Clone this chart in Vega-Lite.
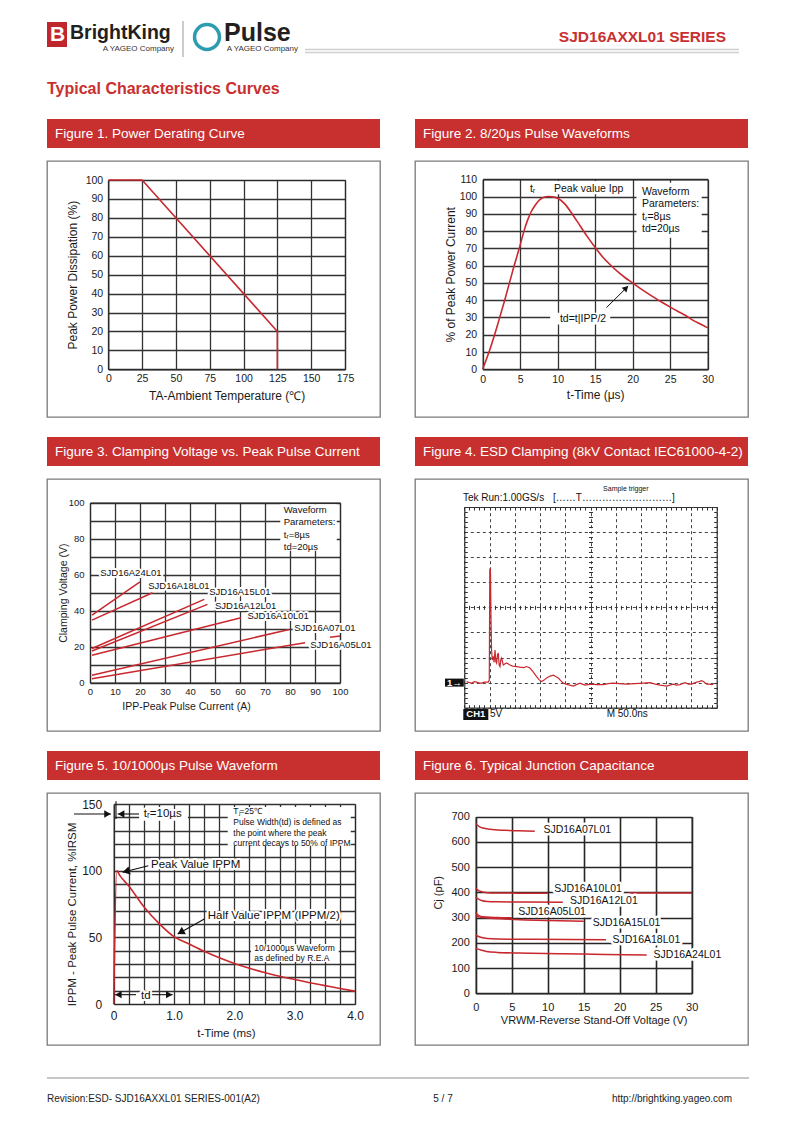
{
"$schema": "https://vega.github.io/schema/vega-lite/v6.json",
"background": "white",
"padding": {"left": 46, "top": 0, "right": 46, "bottom": 0},
"spacing": 19,
"config": {
  "font": "Liberation Sans",
  "view": {"stroke": null},
  "axis": {"labelFont": "Liberation Sans", "titleFont": "Liberation Sans", "labelColor": "#1a1a1a", "titleColor": "#1a1a1a", "titleFontWeight": "normal", "domainColor": "#2a2a2a", "domainWidth": 1.2, "gridColor": "#333333", "gridWidth": 1.3, "gridOpacity": 1, "ticks": false, "tickSize": 0, "labelPadding": 5, "zindex": 0, "labelFlush": false, "labelOverlap": false, "labelBound": false},
  "text": {"font": "Liberation Sans"}
},
"datasets": {
  "f1": [{"t":0,"p":100},{"t":25,"p":100},{"t":125,"p":20},{"t":125,"p":0}],
  "f2": [{"x":0,"y":0},{"x":1,"y":12},{"x":2,"y":26},{"x":3,"y":41},{"x":4,"y":57},{"x":5,"y":72},{"x":5.5,"y":80},{"x":6,"y":86.5},{"x":6.5,"y":91.5},{"x":7,"y":95},{"x":7.5,"y":97.7},{"x":8,"y":99.3},{"x":8.8,"y":100},{"x":9.5,"y":99.7},{"x":10,"y":99},{"x":11,"y":95.5},{"x":12,"y":89.5},{"x":13,"y":83},{"x":14,"y":76.5},{"x":15,"y":70.5},{"x":16,"y":65},{"x":17,"y":60.5},{"x":18,"y":56.5},{"x":19,"y":53},{"x":20,"y":50},{"x":21,"y":46.9},{"x":22,"y":44},{"x":23,"y":41.2},{"x":24,"y":38.5},{"x":25,"y":36},{"x":26,"y":33.6},{"x":27,"y":31.3},{"x":28,"y":28.5},{"x":29,"y":26.2},{"x":30,"y":24}],
  "f2txt": [{"x":6.3,"y":104.6,"label":"tᵣ"},{"x":9.5,"y":104.6,"label":"Peak value Ipp"},{"x":21.24,"y":102.7,"label":"Waveform"},{"x":21.24,"y":95.7,"label":"Parameters:"},{"x":21.24,"y":88.4,"label":"tᵣ=8µs"},{"x":21.24,"y":81.3,"label":"td=20µs"},{"x":10.3,"y":29.3,"label":"td=t|IPP/2"}],
  "f2box": [{"x":20.5,"x2":29.2,"y":76.2,"y2":108},{"x":9,"x2":17,"y":26,"y2":32.8},{"x":5.6,"x2":19.6,"y":101.3,"y2":109}],
  "f2arrow": [{"x":16.5,"y":35.7,"x2":19.4,"y2":48.2}],
  "f2head": [{"x":19.12,"y":46.98}],
  "f3": [{"s":"SJD16A24L01","x":0.8,"y":37.5},{"s":"SJD16A24L01","x":20,"y":56},{"s":"SJD16A18L01","x":0.8,"y":34.8},{"s":"SJD16A18L01","x":25,"y":50},{"s":"SJD16A15L01","x":0.8,"y":19},{"s":"SJD16A15L01","x":45.7,"y":46.3},{"s":"SJD16A12L01","x":0.8,"y":17.6},{"s":"SJD16A12L01","x":47,"y":43.5},{"s":"SJD16A10L01","x":0.8,"y":15.2},{"s":"SJD16A10L01","x":60.4,"y":36.1},{"s":"SJD16A07L01","x":0.8,"y":4.1},{"s":"SJD16A07L01","x":79.7,"y":29.6},{"s":"SJD16A05L01","x":0.8,"y":2.2},{"s":"SJD16A05L01","x":86,"y":22.2},{"s":"SJD16A05L01b","x":96,"y":25.2},{"s":"SJD16A05L01b","x":100,"y":25.9}],
  "f3lab": [{"x":4.1,"y":60.9,"label":"SJD16A24L01"},{"x":23.3,"y":53.7,"label":"SJD16A18L01"},{"x":47.7,"y":50.4,"label":"SJD16A15L01"},{"x":50,"y":42.6,"label":"SJD16A12L01"},{"x":63,"y":36.9,"label":"SJD16A10L01"},{"x":81.7,"y":30.4,"label":"SJD16A07L01"},{"x":88.1,"y":20.7,"label":"SJD16A05L01"}],
  "f3wave": [{"x":77.5,"y":95.9,"label":"Waveform"},{"x":77.5,"y":89.3,"label":"Parameters:"},{"x":77.5,"y":82.2,"label":"tᵣ=8µs"},{"x":77.5,"y":75.4,"label":"td=20µs"}],
  "f3box": [{"x":76.1,"x2":98.7,"y":73.3,"y2":99.2}],
  "f4": [{"x":4.6,"y":0.2},{"x":10,"y":0},{"x":14.5,"y":-0.1},{"x":20,"y":0.2},{"x":24,"y":0.1},{"x":30,"y":-0.1},{"x":34,"y":-0.1},{"x":40,"y":0.1},{"x":47.5,"y":0.1},{"x":49.5,"y":0.5},{"x":50.5,"y":22.6},{"x":51.8,"y":22.6},{"x":53,"y":12},{"x":54,"y":6.5},{"x":55.5,"y":4.5},{"x":57.5,"y":5.2},{"x":59,"y":4},{"x":60.8,"y":6.5},{"x":62.5,"y":4.2},{"x":64,"y":3.9},{"x":65.7,"y":5.5},{"x":67.4,"y":5.9},{"x":69,"y":3.5},{"x":70.7,"y":3.2},{"x":72.5,"y":4.6},{"x":74,"y":4.9},{"x":77.3,"y":3.5},{"x":80,"y":3.7},{"x":83.9,"y":3.9},{"x":90.5,"y":3.5},{"x":96,"y":3.3},{"x":103.7,"y":3.2},{"x":110,"y":3.1},{"x":118,"y":3.0},{"x":123.5,"y":3.2},{"x":130,"y":2.9},{"x":136,"y":2.2},{"x":143.3,"y":1.2},{"x":148,"y":0.6},{"x":153.2,"y":0.2},{"x":158,"y":0.5},{"x":163,"y":0.9},{"x":170,"y":1.3},{"x":176.4,"y":1.5},{"x":181,"y":1.2},{"x":186.3,"y":0.9},{"x":191,"y":0.4},{"x":196,"y":-0.1},{"x":205,"y":-0.4},{"x":216,"y":-0.7},{"x":222,"y":-0.4},{"x":229,"y":-0.1},{"x":234,"y":-0.3},{"x":239,"y":-0.5},{"x":245,"y":-0.4},{"x":252.3,"y":-0.3},{"x":262,"y":-0.4},{"x":275.4,"y":-0.4},{"x":285,"y":-0.2},{"x":295.2,"y":-0.1},{"x":308,"y":-0.2},{"x":321.7,"y":-0.3},{"x":338,"y":-0.2},{"x":354.7,"y":-0.1},{"x":368,"y":0},{"x":378,"y":-0.3},{"x":388,"y":-0.5},{"x":395,"y":-0.6},{"x":401,"y":-0.7},{"x":407,"y":-0.5},{"x":414,"y":-0.3},{"x":420,"y":-0.5},{"x":427.3,"y":-0.4},{"x":432,"y":-0.2},{"x":437.2,"y":0},{"x":444,"y":-0.3},{"x":450.5,"y":-0.3},{"x":455,"y":-0.1},{"x":460.4,"y":0.1},{"x":465,"y":0.2},{"x":470.3,"y":0.4},{"x":475,"y":0.1},{"x":480.2,"y":-0.3},{"x":485,"y":-0.3},{"x":490,"y":-0.4},{"x":493.4,"y":-0.3}],
  "f4txt": [{"x":-2.6,"y":36.8,"label":"Tek Run:1.00GS/s"},{"x":175.7,"y":36.8,"label":"[……T………………………]"},{"x":51,"y":-6.35,"label":"5V"},{"x":282,"y":-6.35,"label":"M 50.0ns"}],
  "f4small": [{"x":320,"y":38.6,"label":"Sample trigger"}],
  "f4box": [{"x":-38.2,"x2":-1,"y":-0.8,"y2":0.8},{"x":-2,"x2":47.6,"y":-5.26,"y2":-7.45}],
  "f4boxtxt": [{"x":-19.6,"y":0,"label":"1→"},{"x":22.8,"y":-6.35,"label":"CH1"}],
  "f5": [{"x":0,"y":0},{"x":0.05,"y":100},{"x":0.1,"y":96.5},{"x":0.25,"y":88.5},{"x":0.5,"y":73},{"x":0.75,"y":60.5},{"x":1,"y":50.5},{"x":1.25,"y":45},{"x":1.5,"y":39.5},{"x":1.75,"y":34.6},{"x":2,"y":30.4},{"x":2.25,"y":26.8},{"x":2.5,"y":23.6},{"x":2.75,"y":20.8},{"x":3,"y":18.4},{"x":3.25,"y":16},{"x":3.5,"y":13.8},{"x":3.75,"y":11.6},{"x":4,"y":9.6}],
  "f5box": [{"x":1.89,"x2":3.93,"y":118.7,"y2":147.75},{"x":2.277,"x2":3.73,"y":31.5,"y2":45},{"x":0.42,"x2":1.23,"y":137.5,"y2":146}],
  "f5rule": [{"x":-0.658,"y":142.5,"x2":-0.045,"y2":142.5},{"x":0.42,"y":142.5,"x2":0.066,"y2":142.5},{"x":0.038,"y":152,"x2":0.038,"y2":138.75},{"x":0.574,"y":103.7,"x2":0.149,"y2":98.8},{"x":1.502,"y":63.75,"x2":1.061,"y2":52.5},{"x":0.37,"y":7,"x2":0.02,"y2":7},{"x":0.618,"y":7,"x2":0.978,"y2":7}],
  "f5headR": [{"x":-0.103,"y":142.5},{"x":0.92,"y":7}],
  "f5headL": [{"x":0.124,"y":142.5},{"x":0.078,"y":7}],
  "f5headP": [{"x":0.205,"y":99.45}],
  "f5headH": [{"x":1.111,"y":53.8}],
  "f5big": [{"x":0.5,"y":142.5,"label":"tᵣ=10µs"},{"x":0.618,"y":104.5,"label":"Peak Value IPPM"},{"x":1.558,"y":66.2,"label":"Half Value IPPM (IPPM/2)"},{"x":0.453,"y":6.2,"label":"td"}],
  "f5small": [{"x":1.983,"y":145,"label":"Tⱼ=25℃"},{"x":1.983,"y":136.3,"label":"Pulse Width(td) is defined as"},{"x":1.983,"y":128.25,"label":"the point where the peak"},{"x":1.983,"y":120.75,"label":"current decays to 50% of IPPM"},{"x":2.33,"y":41.8,"label":"10/1000µs Waveform"},{"x":2.33,"y":34.3,"label":"as defined by R.E.A"}],
  "f6": [{"s":"07","x":0,"y":672},{"s":"07","x":0.5,"y":661},{"s":"07","x":1,"y":655},{"s":"07","x":2,"y":650},{"s":"07","x":4,"y":646},{"s":"07","x":6,"y":644},{"s":"07","x":8.2,"y":642},
         {"s":"10","x":0,"y":416},{"s":"10","x":0.3,"y":409},{"s":"10","x":0.8,"y":403},{"s":"10","x":1.6,"y":399},{"s":"10","x":3,"y":397.5},{"s":"10","x":6,"y":397},{"s":"10","x":10,"y":396.3},
         {"s":"10b","x":21.2,"y":397.6},{"s":"10b","x":30,"y":397.6},
         {"s":"12","x":0,"y":380},{"s":"12","x":0.4,"y":373},{"s":"12","x":0.8,"y":368},{"s":"12","x":1.6,"y":364},{"s":"12","x":3,"y":362.5},{"s":"12","x":7,"y":361.5},{"s":"12","x":12.1,"y":360.6},
         {"s":"05","x":0,"y":321},{"s":"05","x":0.2,"y":313},{"s":"05","x":0.6,"y":306},{"s":"05","x":1.5,"y":302},{"s":"05","x":3,"y":300},{"s":"05","x":5,"y":299},
         {"s":"15","x":0,"y":308},{"s":"15","x":0.4,"y":303},{"s":"15","x":1,"y":300},{"s":"15","x":2,"y":297.5},{"s":"15","x":4,"y":294.5},{"s":"15","x":7,"y":291},{"s":"15","x":10,"y":288.5},{"s":"15","x":15,"y":285.3},
         {"s":"18","x":0,"y":231},{"s":"18","x":0.4,"y":225},{"s":"18","x":0.8,"y":221},{"s":"18","x":1.6,"y":217},{"s":"18","x":3,"y":215},{"s":"18","x":8,"y":214},{"s":"18","x":18.1,"y":212.7},
         {"s":"24","x":0,"y":178},{"s":"24","x":0.8,"y":171},{"s":"24","x":1.5,"y":166},{"s":"24","x":3,"y":162},{"s":"24","x":6,"y":159.5},{"s":"24","x":12,"y":157},{"s":"24","x":18,"y":154},{"s":"24","x":23.75,"y":152}],
  "f6lab": [{"x":9.4,"y":648.6,"label":"SJD16A07L01"},{"x":10.9,"y":413.5,"label":"SJD16A10L01"},{"x":13.1,"y":366,"label":"SJD16A12L01"},{"x":5.9,"y":321,"label":"SJD16A05L01"},{"x":16.25,"y":278.7,"label":"SJD16A15L01"},{"x":19,"y":211,"label":"SJD16A18L01"},{"x":24.7,"y":152,"label":"SJD16A24L01"}]
},
"vconcat": [
{
  "width": 702, "height": 100,
  "layer": [
    {"data": {"values": [{"label": "logo"}]}, "mark": {"type": "rect", "color": "#c0272d"},
     "encoding": {"x": {"datum": 46, "type": "quantitative", "scale": {"domain": [46, 748], "nice": false, "zero": false}, "axis": null}, "x2": {"datum": 66}, "y": {"datum": 22, "type": "quantitative", "scale": {"domain": [0, 100], "range": [0, 100], "nice": false, "zero": false}, "axis": null}, "y2": {"datum": 47}}},
    {"data": {"values": [{"label": "B"}]}, "mark": {"type": "text", "color": "white", "fontWeight": "bold", "fontSize": 21, "align": "center", "baseline": "middle"},
     "encoding": {"x": {"datum": 56.5, "type": "quantitative", "scale": {"domain": [46, 748], "nice": false, "zero": false}, "axis": null}, "y": {"datum": 35, "type": "quantitative", "scale": {"domain": [0, 100], "range": [0, 100], "nice": false, "zero": false}, "axis": null}, "text": {"field": "label"}}},
    {"data": {"values": [{"label": "BrightKing"}]}, "mark": {"type": "text", "color": "#231f20", "fontWeight": "bold", "fontSize": 19.5, "align": "left", "baseline": "alphabetic", "letterSpacing": -0.4},
     "encoding": {"x": {"datum": 69, "type": "quantitative", "scale": {"domain": [46, 748], "nice": false, "zero": false}, "axis": null}, "y": {"datum": 38.5, "type": "quantitative", "scale": {"domain": [0, 100], "range": [0, 100], "nice": false, "zero": false}, "axis": null}, "text": {"field": "label"}}},
    {"data": {"values": [{"label": "A YAGEO Company"}]}, "mark": {"type": "text", "color": "#333333", "fontSize": 8, "align": "right", "baseline": "alphabetic"},
     "encoding": {"x": {"datum": 173, "type": "quantitative", "scale": {"domain": [46, 748], "nice": false, "zero": false}, "axis": null}, "y": {"datum": 51, "type": "quantitative", "scale": {"domain": [0, 100], "range": [0, 100], "nice": false, "zero": false}, "axis": null}, "text": {"field": "label"}}},
    {"data": {"values": [{"label": "separator"}]}, "mark": {"type": "rule", "color": "#9a9a9a", "strokeWidth": 1},
     "encoding": {"x": {"datum": 182, "type": "quantitative", "scale": {"domain": [46, 748], "nice": false, "zero": false}, "axis": null}, "y": {"datum": 21, "type": "quantitative", "scale": {"domain": [0, 100], "range": [0, 100], "nice": false, "zero": false}, "axis": null}, "y2": {"datum": 57}}},
    {"data": {"values": [{"label": "Pulse logo"}]}, "mark": {"type": "point", "shape": "circle", "filled": false, "size": 620, "stroke": "#2c9db1", "strokeWidth": 3.5, "opacity": 1},
     "encoding": {"x": {"datum": 206, "type": "quantitative", "scale": {"domain": [46, 748], "nice": false, "zero": false}, "axis": null}, "y": {"datum": 37, "type": "quantitative", "scale": {"domain": [0, 100], "range": [0, 100], "nice": false, "zero": false}, "axis": null}}},
    {"data": {"values": [{"label": "Pulse"}]}, "mark": {"type": "text", "color": "#231f20", "fontWeight": "bold", "fontSize": 25, "align": "left", "baseline": "alphabetic", "letterSpacing": -0.5},
     "encoding": {"x": {"datum": 223, "type": "quantitative", "scale": {"domain": [46, 748], "nice": false, "zero": false}, "axis": null}, "y": {"datum": 41, "type": "quantitative", "scale": {"domain": [0, 100], "range": [0, 100], "nice": false, "zero": false}, "axis": null}, "text": {"field": "label"}}},
    {"data": {"values": [{"label": "A YAGEO Company"}]}, "mark": {"type": "text", "color": "#333333", "fontSize": 8, "align": "right", "baseline": "alphabetic"},
     "encoding": {"x": {"datum": 297, "type": "quantitative", "scale": {"domain": [46, 748], "nice": false, "zero": false}, "axis": null}, "y": {"datum": 51, "type": "quantitative", "scale": {"domain": [0, 100], "range": [0, 100], "nice": false, "zero": false}, "axis": null}, "text": {"field": "label"}}},
    {"data": {"values": [{"label": "header line"}]}, "mark": {"type": "rule", "color": "#cfcfcf", "strokeWidth": 1.6},
     "encoding": {"x": {"datum": 304, "type": "quantitative", "scale": {"domain": [46, 748], "nice": false, "zero": false}, "axis": null}, "x2": {"datum": 738}, "y": {"datum": 49.5, "type": "quantitative", "scale": {"domain": [0, 100], "range": [0, 100], "nice": false, "zero": false}, "axis": null}}},
    {"data": {"values": [{"label": "header line"}]}, "mark": {"type": "rule", "color": "#cfcfcf", "strokeWidth": 1.6},
     "encoding": {"x": {"datum": 304, "type": "quantitative", "scale": {"domain": [46, 748], "nice": false, "zero": false}, "axis": null}, "x2": {"datum": 738}, "y": {"datum": 52.5, "type": "quantitative", "scale": {"domain": [0, 100], "range": [0, 100], "nice": false, "zero": false}, "axis": null}}},
    {"data": {"values": [{"label": "SJD16AXXL01 SERIES"}]}, "mark": {"type": "text", "color": "#c8302f", "fontWeight": "bold", "fontSize": 15.5, "align": "right", "baseline": "alphabetic"},
     "encoding": {"x": {"datum": 725, "type": "quantitative", "scale": {"domain": [46, 748], "nice": false, "zero": false}, "axis": null}, "y": {"datum": 41.5, "type": "quantitative", "scale": {"domain": [0, 100], "range": [0, 100], "nice": false, "zero": false}, "axis": null}, "text": {"field": "label"}}},
    {"data": {"values": [{"label": "Typical Characteristics Curves"}]}, "mark": {"type": "text", "color": "#c8302f", "fontWeight": "bold", "fontSize": 16, "align": "left", "baseline": "alphabetic"},
     "encoding": {"x": {"datum": 46, "type": "quantitative", "scale": {"domain": [46, 748], "nice": false, "zero": false}, "axis": null}, "y": {"datum": 94, "type": "quantitative", "scale": {"domain": [0, 100], "range": [0, 100], "nice": false, "zero": false}, "axis": null}, "text": {"field": "label"}}}
  ]
},
{
  "hconcat": [
    {"vconcat": [
      {"width": 333, "height": 29, "view": {"fill": "#c8302f", "stroke": null},
       "data": {"values": [{"label": "Figure 1. Power Derating Curve"}]},
       "mark": {"type": "text", "align": "left", "baseline": "middle", "dx": 8, "fontSize": 13.5, "color": "white"},
       "encoding": {"x": {"datum": 0, "type": "quantitative", "scale": {"domain": [0, 1]}, "axis": null}, "text": {"field": "label"}}},
      {"width": 333, "height": 256, "view": {"stroke": "#7a7a7a", "strokeWidth": 1.3},
       "data": {"name": "f1"},
       "resolve": {"axis": {"x": "independent", "y": "independent"}},
       "layer": [
         {"mark": {"type": "line", "strokeOpacity": 0},
          "encoding": {
            "x": {"field": "t", "type": "quantitative", "scale": {"domain": [0, 175], "range": [61.3, 298], "nice": false, "zero": false}, "axis": {"orient": "top", "offset": -19, "values": [0,25,50,75,100,125,150,175], "grid": true, "labels": false, "domain": true, "title": null}},
            "y": {"field": "p", "type": "quantitative", "scale": {"domain": [0, 100], "range": [208.3, 19], "nice": false, "zero": false}, "axis": {"orient": "right", "offset": -35, "grid": false, "labels": false, "domain": true, "title": null}}}},
         {"mark": {"type": "line", "color": "#c8282e", "strokeWidth": 1.6},
          "encoding": {
            "x": {"field": "t", "type": "quantitative", "scale": {"domain": [0, 175], "range": [61.3, 298], "nice": false, "zero": false}, "axis": {"orient": "bottom", "offset": -47.7, "values": [0,25,50,75,100,125,150,175], "grid": false, "labelFontSize": 10.5, "labelPadding": 4, "title": "TA-Ambient Temperature (℃)", "titleFontSize": 12, "titleY": 25.7, "titleBaseline": "middle"}},
            "y": {"field": "p", "type": "quantitative", "scale": {"domain": [0, 100], "range": [208.3, 19], "nice": false, "zero": false}, "axis": {"orient": "left", "offset": -61.3, "values": [0,10,20,30,40,50,60,70,80,90,100], "grid": true, "labelFontSize": 10.5, "labelPadding": 5.6, "title": "Peak Power Dissipation (%)", "titleFontSize": 12, "titleX": -35.6, "titleBaseline": "middle"}}}}
       ]}
    ], "spacing": 12},
    {"vconcat": [
      {"width": 333, "height": 29, "view": {"fill": "#c8302f", "stroke": null},
       "data": {"values": [{"label": "Figure 2. 8/20μs Pulse Waveforms"}]},
       "mark": {"type": "text", "align": "left", "baseline": "middle", "dx": 8, "fontSize": 13.5, "color": "white"},
       "encoding": {"x": {"datum": 0, "type": "quantitative", "scale": {"domain": [0, 1]}, "axis": null}, "text": {"field": "label"}}},
      {"width": 333, "height": 256, "view": {"stroke": "#7a7a7a", "strokeWidth": 1.3},
       "resolve": {"axis": {"x": "independent", "y": "independent"}},
       "layer": [
         {"data": {"name": "f2box"}, "mark": {"type": "rect", "color": "white"},
          "encoding": {
            "x": {"field": "x", "type": "quantitative", "scale": {"domain": [0, 30], "range": [67.7, 292.7], "nice": false, "zero": false}, "axis": {"orient": "top", "offset": -18.3, "values": [0,5,10,15,20,25,30], "grid": true, "labels": false, "domain": true, "title": null}},
            "x2": {"field": "x2"},
            "y": {"field": "y", "type": "quantitative", "scale": {"domain": [0, 110], "range": [208.3, 18.3], "nice": false, "zero": false}, "axis": {"orient": "right", "offset": -40.3, "grid": false, "labels": false, "domain": true, "title": null}},
            "y2": {"field": "y2"}}},
         {"data": {"name": "f2"}, "mark": {"type": "line", "color": "#c8282e", "strokeWidth": 1.6, "interpolate": "monotone"},
          "encoding": {
            "x": {"field": "x", "type": "quantitative", "scale": {"domain": [0, 30], "range": [67.7, 292.7], "nice": false, "zero": false}, "axis": {"orient": "bottom", "offset": -47.7, "values": [0,5,10,15,20,25,30], "grid": false, "labelFontSize": 10.5, "labelPadding": 5, "title": "t-Time (μs)", "titleFontSize": 12, "titleY": 25, "titleBaseline": "middle"}},
            "y": {"field": "y", "type": "quantitative", "scale": {"domain": [0, 110], "range": [208.3, 18.3], "nice": false, "zero": false}, "axis": {"orient": "left", "offset": -67.7, "values": [0,10,20,30,40,50,60,70,80,90,100,110], "grid": true, "labelFontSize": 10.5, "labelPadding": 6, "title": "% of Peak Power Current", "titleFontSize": 12, "titleX": -32.7, "titleBaseline": "middle"}}}},
         {"data": {"name": "f2arrow"}, "mark": {"type": "rule", "color": "#111", "strokeWidth": 1},
          "encoding": {
            "x": {"field": "x", "type": "quantitative", "scale": {"domain": [0, 30], "range": [67.7, 292.7], "nice": false, "zero": false}, "axis": null},
            "y": {"field": "y", "type": "quantitative", "scale": {"domain": [0, 110], "range": [208.3, 18.3], "nice": false, "zero": false}, "axis": null},
            "x2": {"field": "x2"}, "y2": {"field": "y2"}}},
         {"data": {"name": "f2head"}, "mark": {"type": "point", "shape": "triangle-right", "filled": true, "color": "#111", "size": 45, "angle": -45, "opacity": 1},
          "encoding": {
            "x": {"field": "x", "type": "quantitative", "scale": {"domain": [0, 30], "range": [67.7, 292.7], "nice": false, "zero": false}, "axis": null},
            "y": {"field": "y", "type": "quantitative", "scale": {"domain": [0, 110], "range": [208.3, 18.3], "nice": false, "zero": false}, "axis": null}}},
         {"data": {"name": "f2txt"}, "mark": {"type": "text", "align": "left", "baseline": "middle", "fontSize": 10.5, "color": "#111"},
          "encoding": {
            "x": {"field": "x", "type": "quantitative", "scale": {"domain": [0, 30], "range": [67.7, 292.7], "nice": false, "zero": false}, "axis": null},
            "y": {"field": "y", "type": "quantitative", "scale": {"domain": [0, 110], "range": [208.3, 18.3], "nice": false, "zero": false}, "axis": null},
            "text": {"field": "label"}}}
       ]}
    ], "spacing": 12}
  ], "spacing": 33
},
{
  "hconcat": [
    {"vconcat": [
      {"width": 333, "height": 29, "view": {"fill": "#c8302f", "stroke": null},
       "data": {"values": [{"label": "Figure 3. Clamping Voltage vs. Peak Pulse Current"}]},
       "mark": {"type": "text", "align": "left", "baseline": "middle", "dx": 8, "fontSize": 13.5, "color": "white"},
       "encoding": {"x": {"datum": 0, "type": "quantitative", "scale": {"domain": [0, 1]}, "axis": null}, "text": {"field": "label"}}},
      {"width": 333, "height": 252, "view": {"stroke": "#7a7a7a", "strokeWidth": 1.3},
       "resolve": {"axis": {"x": "independent", "y": "independent"}},
       "layer": [
         {"data": {"name": "f3box"}, "mark": {"type": "rect", "color": "white"},
          "encoding": {
            "x": {"field": "x", "type": "quantitative", "scale": {"domain": [0, 100], "range": [43, 293], "nice": false, "zero": false}, "axis": {"orient": "top", "offset": -23.7, "values": [0,10,20,30,40,50,60,70,80,90,100], "grid": true, "labels": false, "domain": true, "title": null}},
            "x2": {"field": "x2"},
            "y": {"field": "y", "type": "quantitative", "scale": {"domain": [0, 100], "range": [203.7, 23.7], "nice": false, "zero": false}, "axis": {"orient": "right", "offset": -40, "grid": false, "labels": false, "domain": true, "title": null}},
            "y2": {"field": "y2"}}},
         {"data": {"name": "f3"}, "mark": {"type": "line", "color": "#c8282e", "strokeWidth": 1.5},
          "encoding": {
            "x": {"field": "x", "type": "quantitative", "scale": {"domain": [0, 100], "range": [43, 293], "nice": false, "zero": false}, "axis": {"orient": "bottom", "offset": -48.3, "values": [0,10,20,30,40,50,60,70,80,90,100], "grid": false, "labelFontSize": 9.5, "labelPadding": 4, "title": "IPP-Peak Pulse Current (A)", "titleFontSize": 10.5, "titleY": 24, "titleX": 139, "titleBaseline": "middle"}},
            "y": {"field": "y", "type": "quantitative", "scale": {"domain": [0, 100], "range": [203.7, 23.7], "nice": false, "zero": false}, "axis": {"orient": "left", "offset": -43, "values": [0,10,20,30,40,50,60,70,80,90,100], "labelExpr": "datum.value % 20 === 0 ? datum.label : ''", "grid": true, "labelFontSize": 9.5, "labelPadding": 6, "title": "Clamping Voltage (V)", "titleFontSize": 10.5, "titleX": -26.3, "titleBaseline": "middle"}},
            "detail": {"field": "s"}}},
         {"data": {"name": "f3lab"}, "mark": {"type": "text", "align": "left", "baseline": "middle", "fontSize": 9.5, "stroke": "white", "strokeWidth": 4, "strokeJoin": "round", "fill": "white"},
          "encoding": {
            "x": {"field": "x", "type": "quantitative", "scale": {"domain": [0, 100], "range": [43, 293], "nice": false, "zero": false}, "axis": null},
            "y": {"field": "y", "type": "quantitative", "scale": {"domain": [0, 100], "range": [203.7, 23.7], "nice": false, "zero": false}, "axis": null},
            "text": {"field": "label"}}},
         {"data": {"name": "f3lab"}, "mark": {"type": "text", "align": "left", "baseline": "middle", "fontSize": 9.5, "color": "#111"},
          "encoding": {
            "x": {"field": "x", "type": "quantitative", "scale": {"domain": [0, 100], "range": [43, 293], "nice": false, "zero": false}, "axis": null},
            "y": {"field": "y", "type": "quantitative", "scale": {"domain": [0, 100], "range": [203.7, 23.7], "nice": false, "zero": false}, "axis": null},
            "text": {"field": "label"}}},
         {"data": {"name": "f3wave"}, "mark": {"type": "text", "align": "left", "baseline": "middle", "fontSize": 9.5, "color": "#111"},
          "encoding": {
            "x": {"field": "x", "type": "quantitative", "scale": {"domain": [0, 100], "range": [43, 293], "nice": false, "zero": false}, "axis": null},
            "y": {"field": "y", "type": "quantitative", "scale": {"domain": [0, 100], "range": [203.7, 23.7], "nice": false, "zero": false}, "axis": null},
            "text": {"field": "label"}}}
       ]}
    ], "spacing": 12},
    {"vconcat": [
      {"width": 333, "height": 29, "view": {"fill": "#c8302f", "stroke": null},
       "data": {"values": [{"label": "Figure 4. ESD Clamping (8kV Contact IEC61000-4-2)"}]},
       "mark": {"type": "text", "align": "left", "baseline": "middle", "dx": 8, "fontSize": 13.5, "color": "white"},
       "encoding": {"x": {"datum": 0, "type": "quantitative", "scale": {"domain": [0, 1]}, "axis": null}, "text": {"field": "label"}}},
      {"width": 333, "height": 252, "view": {"stroke": "#7a7a7a", "strokeWidth": 1.3},
       "resolve": {"axis": {"x": "independent", "y": "independent"}},
       "layer": [
         {"data": {"name": "f4box"}, "mark": {"type": "rect", "color": "#111"},
          "encoding": {
            "x": {"field": "x", "type": "quantitative", "scale": {"domain": [0, 500], "range": [49.3, 301.7], "nice": false, "zero": false}, "axis": {"orient": "top", "offset": -28, "tickCount": 10, "grid": true, "gridDash": [3, 3], "gridColor": "#444", "gridWidth": 1, "labels": false, "domain": true, "domainColor": "#333", "title": null}},
            "x2": {"field": "x2"},
            "y": {"field": "y", "type": "quantitative", "scale": {"domain": [-5, 35], "range": [228.7, 28], "nice": false, "zero": false}, "axis": {"orient": "left", "offset": -49.3, "tickCount": 8, "grid": true, "gridDash": [3, 3], "gridColor": "#444", "gridWidth": 1, "labels": false, "domain": true, "domainColor": "#333", "title": null}},
            "y2": {"field": "y2"}}},
         {"data": {"name": "f4boxtxt"}, "mark": {"type": "text", "align": "center", "baseline": "middle", "fontSize": 9.5, "fontWeight": "bold", "color": "white"},
          "encoding": {
            "x": {"field": "x", "type": "quantitative", "scale": {"domain": [0, 500], "range": [49.3, 301.7], "nice": false, "zero": false}, "axis": {"orient": "bottom", "offset": -23.3, "tickCount": 50, "ticks": true, "tickSize": -3, "tickColor": "#333", "tickWidth": 1, "grid": false, "labels": false, "domain": true, "domainColor": "#333", "title": null}},
            "y": {"field": "y", "type": "quantitative", "scale": {"domain": [-5, 35], "range": [228.7, 28], "nice": false, "zero": false}, "axis": {"orient": "right", "offset": -31.3, "tickCount": 40, "ticks": true, "tickSize": -3, "tickColor": "#333", "tickWidth": 1, "grid": false, "labels": false, "domain": true, "domainColor": "#333", "title": null}},
            "text": {"field": "label"}}},
         {"data": {"name": "f4txt"}, "mark": {"type": "text", "align": "left", "baseline": "middle", "fontSize": 10, "color": "#111"},
          "encoding": {
            "x": {"field": "x", "type": "quantitative", "scale": {"domain": [0, 500], "range": [49.3, 301.7], "nice": false, "zero": false}, "axis": {"orient": "top", "offset": -28, "tickCount": 50, "ticks": true, "tickSize": -3, "tickColor": "#333", "tickWidth": 1, "grid": false, "labels": false, "domain": false, "title": null}},
            "y": {"field": "y", "type": "quantitative", "scale": {"domain": [-5, 35], "range": [228.7, 28], "nice": false, "zero": false}, "axis": {"orient": "left", "offset": -49.3, "tickCount": 40, "ticks": true, "tickSize": -3, "tickColor": "#333", "tickWidth": 1, "grid": false, "labels": false, "domain": false, "title": null}},
            "text": {"field": "label"}}},
         {"data": {"name": "f4"}, "mark": {"type": "line", "color": "#c8282e", "strokeWidth": 1.2},
          "encoding": {
            "x": {"field": "x", "type": "quantitative", "scale": {"domain": [0, 500], "range": [49.3, 301.7], "nice": false, "zero": false}, "axis": {"orient": "bottom", "offset": -121.65, "tickCount": 50, "ticks": true, "tickSize": -4, "tickColor": "#333", "tickWidth": 1, "grid": false, "labels": false, "domain": false, "title": null}},
            "y": {"field": "y", "type": "quantitative", "scale": {"domain": [-5, 35], "range": [228.7, 28], "nice": false, "zero": false}, "axis": {"orient": "left", "offset": -173.5, "tickCount": 40, "ticks": true, "tickSize": -4, "tickColor": "#333", "tickWidth": 1, "grid": false, "labels": false, "domain": false, "title": null}}}},
         {"data": {"name": "f4small"}, "mark": {"type": "text", "align": "center", "baseline": "middle", "fontSize": 7, "color": "#111"},
          "encoding": {
            "x": {"field": "x", "type": "quantitative", "scale": {"domain": [0, 500], "range": [49.3, 301.7], "nice": false, "zero": false}, "axis": null},
            "y": {"field": "y", "type": "quantitative", "scale": {"domain": [-5, 35], "range": [228.7, 28], "nice": false, "zero": false}, "axis": null},
            "text": {"field": "label"}}}
       ]}
    ], "spacing": 12}
  ], "spacing": 33
},
{
  "hconcat": [
    {"vconcat": [
      {"width": 333, "height": 29, "view": {"fill": "#c8302f", "stroke": null},
       "data": {"values": [{"label": "Figure 5. 10/1000μs Pulse Waveform"}]},
       "mark": {"type": "text", "align": "left", "baseline": "middle", "dx": 8, "fontSize": 13.5, "color": "white"},
       "encoding": {"x": {"datum": 0, "type": "quantitative", "scale": {"domain": [0, 1]}, "axis": null}, "text": {"field": "label"}}},
      {"width": 333, "height": 252, "view": {"stroke": "#7a7a7a", "strokeWidth": 1.3},
       "resolve": {"axis": {"x": "independent", "y": "independent"}},
       "layer": [
         {"data": {"name": "f5box"}, "mark": {"type": "rect", "color": "white"},
          "encoding": {
            "x": {"field": "x", "type": "quantitative", "scale": {"domain": [0, 4], "range": [66.7, 308], "nice": false, "zero": false}, "axis": {"orient": "top", "offset": -11, "values": [0,0.25,0.5,0.75,1,1.25,1.5,1.75,2,2.25,2.5,2.75,3,3.25,3.5,3.75,4], "grid": true, "labels": false, "domain": false, "title": null}},
            "x2": {"field": "x2"},
            "y": {"field": "y", "type": "quantitative", "scale": {"domain": [0, 150], "range": [211, 11], "nice": false, "zero": false}, "axis": {"orient": "right", "offset": -25, "grid": false, "labels": false, "domain": true, "title": null}},
            "y2": {"field": "y2"}}},
         {"data": {"name": "f5"}, "mark": {"type": "line", "color": "#c8282e", "strokeWidth": 1.6, "interpolate": "monotone"},
          "encoding": {
            "x": {"field": "x", "type": "quantitative", "scale": {"domain": [0, 4], "range": [66.7, 308], "nice": false, "zero": false}, "axis": {"orient": "bottom", "offset": -41, "values": [0,1,2,3,4], "labelExpr": "datum.value == 0 ? '0' : format(datum.value, '.1f')", "grid": false, "labelFontSize": 12, "labelPadding": 6, "title": "t-Time (ms)", "titleFontSize": 11.5, "titleY": 29, "titleX": 179, "titleBaseline": "middle"}},
            "y": {"field": "y", "type": "quantitative", "scale": {"domain": [0, 150], "range": [211, 11], "nice": false, "zero": false}, "axis": {"orient": "left", "offset": -66.7, "values": [0,10,20,30,40,50,60,70,80,90,100,110,120,130,140,150], "labelExpr": "datum.value % 50 === 0 ? datum.label : ''", "grid": true, "labelFontSize": 12, "labelPadding": 12, "title": "IPPM - Peak Pulse Current, %IRSM", "titleFontSize": 11.5, "titleX": -41, "titleY": 121, "titleBaseline": "middle"}}}},
         {"data": {"name": "f5rule"}, "mark": {"type": "rule", "color": "#111", "strokeWidth": 1.1},
          "encoding": {
            "x": {"field": "x", "type": "quantitative", "scale": {"domain": [0, 4], "range": [66.7, 308], "nice": false, "zero": false}, "axis": null},
            "y": {"field": "y", "type": "quantitative", "scale": {"domain": [0, 150], "range": [211, 11], "nice": false, "zero": false}, "axis": null},
            "x2": {"field": "x2"}, "y2": {"field": "y2"}}},
         {"data": {"name": "f5headR"}, "mark": {"type": "point", "shape": "triangle-right", "filled": true, "color": "#111", "size": 55, "opacity": 1},
          "encoding": {
            "x": {"field": "x", "type": "quantitative", "scale": {"domain": [0, 4], "range": [66.7, 308], "nice": false, "zero": false}, "axis": null},
            "y": {"field": "y", "type": "quantitative", "scale": {"domain": [0, 150], "range": [211, 11], "nice": false, "zero": false}, "axis": null}}},
         {"data": {"name": "f5headL"}, "mark": {"type": "point", "shape": "triangle-left", "filled": true, "color": "#111", "size": 55, "opacity": 1},
          "encoding": {
            "x": {"field": "x", "type": "quantitative", "scale": {"domain": [0, 4], "range": [66.7, 308], "nice": false, "zero": false}, "axis": null},
            "y": {"field": "y", "type": "quantitative", "scale": {"domain": [0, 150], "range": [211, 11], "nice": false, "zero": false}, "axis": null}}},
         {"data": {"name": "f5headP"}, "mark": {"type": "point", "shape": "triangle-left", "filled": true, "color": "#111", "size": 70, "angle": -14.5, "opacity": 1},
          "encoding": {
            "x": {"field": "x", "type": "quantitative", "scale": {"domain": [0, 4], "range": [66.7, 308], "nice": false, "zero": false}, "axis": null},
            "y": {"field": "y", "type": "quantitative", "scale": {"domain": [0, 150], "range": [211, 11], "nice": false, "zero": false}, "axis": null}}},
         {"data": {"name": "f5headH"}, "mark": {"type": "point", "shape": "triangle-left", "filled": true, "color": "#111", "size": 70, "angle": -29.4, "opacity": 1},
          "encoding": {
            "x": {"field": "x", "type": "quantitative", "scale": {"domain": [0, 4], "range": [66.7, 308], "nice": false, "zero": false}, "axis": null},
            "y": {"field": "y", "type": "quantitative", "scale": {"domain": [0, 150], "range": [211, 11], "nice": false, "zero": false}, "axis": null}}},
         {"data": {"name": "f5big"}, "mark": {"type": "text", "align": "left", "baseline": "middle", "fontSize": 11.5, "stroke": "white", "strokeWidth": 4, "strokeJoin": "round", "fill": "white"},
          "encoding": {
            "x": {"field": "x", "type": "quantitative", "scale": {"domain": [0, 4], "range": [66.7, 308], "nice": false, "zero": false}, "axis": null},
            "y": {"field": "y", "type": "quantitative", "scale": {"domain": [0, 150], "range": [211, 11], "nice": false, "zero": false}, "axis": null},
            "text": {"field": "label"}}},
         {"data": {"name": "f5big"}, "mark": {"type": "text", "align": "left", "baseline": "middle", "fontSize": 11.5, "color": "#111"},
          "encoding": {
            "x": {"field": "x", "type": "quantitative", "scale": {"domain": [0, 4], "range": [66.7, 308], "nice": false, "zero": false}, "axis": null},
            "y": {"field": "y", "type": "quantitative", "scale": {"domain": [0, 150], "range": [211, 11], "nice": false, "zero": false}, "axis": null},
            "text": {"field": "label"}}},
         {"data": {"name": "f5small"}, "mark": {"type": "text", "align": "left", "baseline": "middle", "fontSize": 8.5, "color": "#111"},
          "encoding": {
            "x": {"field": "x", "type": "quantitative", "scale": {"domain": [0, 4], "range": [66.7, 308], "nice": false, "zero": false}, "axis": null},
            "y": {"field": "y", "type": "quantitative", "scale": {"domain": [0, 150], "range": [211, 11], "nice": false, "zero": false}, "axis": null},
            "text": {"field": "label"}}}
       ]}
    ], "spacing": 12},
    {"vconcat": [
      {"width": 333, "height": 29, "view": {"fill": "#c8302f", "stroke": null},
       "data": {"values": [{"label": "Figure 6. Typical Junction Capacitance"}]},
       "mark": {"type": "text", "align": "left", "baseline": "middle", "dx": 8, "fontSize": 13.5, "color": "white"},
       "encoding": {"x": {"datum": 0, "type": "quantitative", "scale": {"domain": [0, 1]}, "axis": null}, "text": {"field": "label"}}},
      {"width": 333, "height": 252, "view": {"stroke": "#7a7a7a", "strokeWidth": 1.3},
       "resolve": {"axis": {"x": "independent", "y": "independent"}},
       "layer": [
         {"data": {"name": "f6"}, "mark": {"type": "line", "color": "#c8282e", "strokeWidth": 1.5, "interpolate": "monotone"},
          "encoding": {
            "x": {"field": "x", "type": "quantitative", "scale": {"domain": [0, 30], "range": [60.7, 276.7], "nice": false, "zero": false}, "axis": {"orient": "bottom", "offset": -51.7, "values": [0,5,10,15,20,25,30], "grid": false, "labelFontSize": 11, "labelPadding": 8, "title": "VRWM-Reverse Stand-Off Voltage (V)", "titleFontSize": 11, "titleY": 27.4, "titleX": 178.7, "titleBaseline": "middle"}},
            "y": {"field": "y", "type": "quantitative", "scale": {"domain": [0, 700], "range": [200.3, 23.7], "nice": false, "zero": false}, "axis": {"orient": "left", "offset": -60.7, "values": [0,100,200,300,400,500,600,700], "grid": true, "gridWidth": 1.6, "gridColor": "#262626", "labelFontSize": 11, "labelPadding": 6.4, "title": "Cj (pF)", "titleFontSize": 11, "titleX": -37.4, "titleY": 99.3, "titleBaseline": "middle"}},
            "detail": {"field": "s"}}},
         {"data": {"name": "f6lab"}, "mark": {"type": "text", "align": "left", "baseline": "middle", "fontSize": 10.5, "stroke": "white", "strokeWidth": 5, "strokeJoin": "round", "fill": "white"},
          "encoding": {
            "x": {"field": "x", "type": "quantitative", "scale": {"domain": [0, 30], "range": [60.7, 276.7], "nice": false, "zero": false}, "axis": {"orient": "top", "offset": -23.7, "values": [0,5,10,15,20,25,30], "grid": true, "gridWidth": 1.6, "gridColor": "#262626", "labels": false, "domain": false, "title": null}},
            "y": {"field": "y", "type": "quantitative", "scale": {"domain": [0, 700], "range": [200.3, 23.7], "nice": false, "zero": false}, "axis": {"orient": "right", "offset": -56.3, "grid": false, "labels": false, "domain": true, "title": null}},
            "text": {"field": "label"}}},
         {"data": {"name": "f6lab"}, "mark": {"type": "text", "align": "left", "baseline": "middle", "fontSize": 10.5, "color": "#111"},
          "encoding": {
            "x": {"field": "x", "type": "quantitative", "scale": {"domain": [0, 30], "range": [60.7, 276.7], "nice": false, "zero": false}, "axis": null},
            "y": {"field": "y", "type": "quantitative", "scale": {"domain": [0, 700], "range": [200.3, 23.7], "nice": false, "zero": false}, "axis": null},
            "text": {"field": "label"}}}
       ]}
    ], "spacing": 12}
  ], "spacing": 33
},
{
  "width": 702, "height": 45,
  "layer": [
    {"data": {"values": [{"label": "footer line"}]}, "mark": {"type": "rule", "color": "#b5b5b5", "strokeWidth": 1.5},
     "encoding": {"x": {"datum": 46, "type": "quantitative", "scale": {"domain": [46, 748], "nice": false, "zero": false}, "axis": null}, "x2": {"datum": 748}, "y": {"datum": 13, "type": "quantitative", "scale": {"domain": [0, 45], "range": [0, 45], "nice": false, "zero": false}, "axis": null}}},
    {"data": {"values": [{"label": "Revision:ESD- SJD16AXXL01 SERIES-001(A2)"}]}, "mark": {"type": "text", "align": "left", "baseline": "middle", "fontSize": 10, "color": "#222"},
     "encoding": {"x": {"datum": 46, "type": "quantitative", "scale": {"domain": [46, 748], "nice": false, "zero": false}, "axis": null}, "y": {"datum": 34, "type": "quantitative", "scale": {"domain": [0, 45], "range": [0, 45], "nice": false, "zero": false}, "axis": null}, "text": {"field": "label"}}},
    {"data": {"values": [{"label": "5 / 7"}]}, "mark": {"type": "text", "align": "center", "baseline": "middle", "fontSize": 10, "color": "#222"},
     "encoding": {"x": {"datum": 442, "type": "quantitative", "scale": {"domain": [46, 748], "nice": false, "zero": false}, "axis": null}, "y": {"datum": 34, "type": "quantitative", "scale": {"domain": [0, 45], "range": [0, 45], "nice": false, "zero": false}, "axis": null}, "text": {"field": "label"}}},
    {"data": {"values": [{"label": "http://brightking.yageo.com"}]}, "mark": {"type": "text", "align": "right", "baseline": "middle", "fontSize": 10, "color": "#222"},
     "encoding": {"x": {"datum": 731, "type": "quantitative", "scale": {"domain": [46, 748], "nice": false, "zero": false}, "axis": null}, "y": {"datum": 34, "type": "quantitative", "scale": {"domain": [0, 45], "range": [0, 45], "nice": false, "zero": false}, "axis": null}, "text": {"field": "label"}}}
  ]
}
]
}
